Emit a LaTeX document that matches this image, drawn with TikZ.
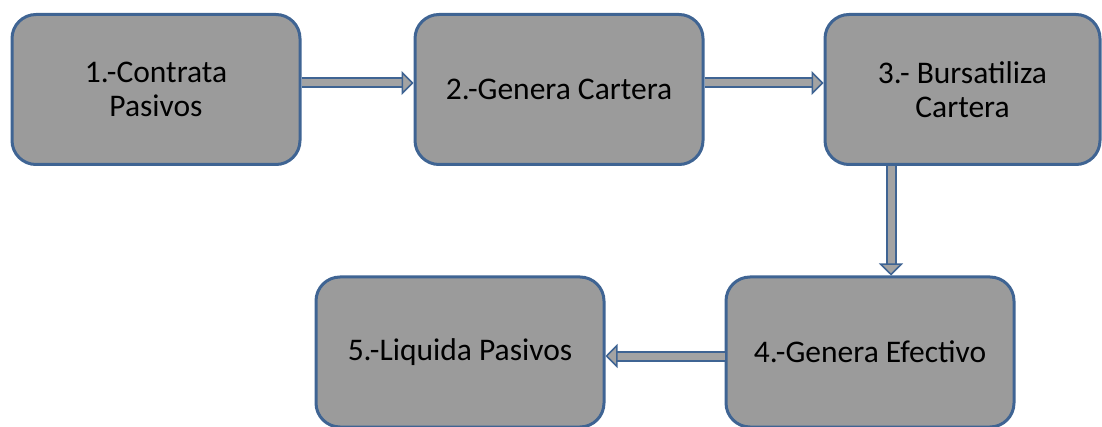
\documentclass[tikz,border=0pt]{standalone}
\usepackage{fontspec}
\setmainfont{Carlito}
\usetikzlibrary{arrows.meta}
\definecolor{boxfill}{HTML}{9B9B9B}
\definecolor{boxline}{HTML}{3F6493}
\definecolor{arrowfill}{HTML}{A3A3A3}
\newcommand\flowarrow[2]{%
  \draw[boxline, line width=11pt, shorten >=10pt] (#1) -- (#2);
  \draw[arrowfill, line width=7pt, -{Triangle[length=12pt,width=24pt,fill=arrowfill,color=boxline,line width=1.5pt]}] (#1) -- (#2);
}
\begin{document}
\begin{tikzpicture}[x=1pt,y=-1pt,
  stepbox/.style={draw=boxline, line width=3pt, fill=boxfill, rounded corners=24pt,
    minimum width=288pt, minimum height=150pt, align=center, inner sep=0pt,
    font=\fontsize{31.5}{34}\selectfont, text=black}]
\useasboundingbox (0,0) rectangle (1102,427);
\node[stepbox] (n1) at (156,89.5) {1.-Contrata\\Pasivos};
\node[stepbox] (n2) at (559,89.5) {2.-Genera Cartera};
\node[stepbox, minimum width=275pt] (n3) at (962.5,89.5) {3.- Bursatiliza\\Cartera};
\node[stepbox] (n4) at (870,352) {4.-Genera Efectivo};
\node[stepbox] (n5) at (460,352) {5.-Liquida Pasivos};
\flowarrow{[yshift=6.5pt]n1.east}{[yshift=6.5pt]n2.west}
\flowarrow{[yshift=6.5pt]n2.east}{[yshift=6.5pt]n3.west}
\flowarrow{[xshift=-71.5pt]n3.south}{[xshift=21pt]n4.north}
\flowarrow{[yshift=-4pt]n4.west}{[yshift=-4pt]n5.east}
\end{tikzpicture}
\end{document}
